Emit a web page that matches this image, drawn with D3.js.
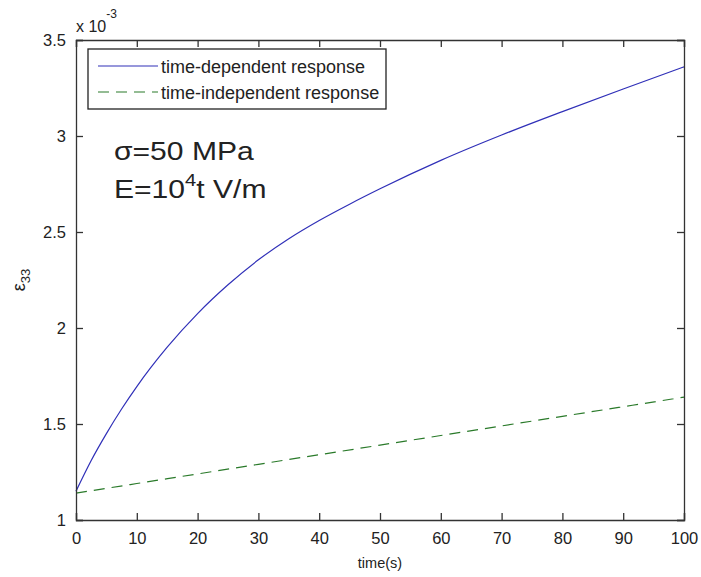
<!DOCTYPE html>
<html>
<head>
<meta charset="utf-8">
<script src="https://cdn.jsdelivr.net/npm/d3@7/dist/d3.min.js"></script>
<style>
  html, body { margin: 0; padding: 0; background: #fff; }
  svg text { font-family: "Liberation Sans", Arial, sans-serif; fill: #222; }
</style>
</head>
<body>
<div id="chart"></div>
<script>
// values (strain in units of 1e-3)
const timeDep = [0, 2.5, 5, 7.5, 10, 15, 20, 25, 30, 35, 40, 45, 50, 60, 70, 80, 90, 100];
const strainDep = [1.15, 1.31, 1.45, 1.578, 1.695, 1.90, 2.075, 2.225, 2.355, 2.465, 2.56, 2.645, 2.725, 2.873, 3.005, 3.127, 3.245, 3.36];
const timeIndep = [0, 10, 20, 30, 40, 50, 60, 70, 80, 90, 100];
const strainIndep = [1.14, 1.19, 1.24, 1.29, 1.34, 1.39, 1.44, 1.49, 1.54, 1.59, 1.64];
const xTicks = [0, 10, 20, 30, 40, 50, 60, 70, 80, 90, 100];
const yTicks = [1, 1.5, 2, 2.5, 3, 3.5];
const legendLabels = ["time-dependent response", "time-independent response"];

const width = 701, height = 577;
const margin = {top: 40, right: 17, bottom: 57, left: 76};

let svg = d3.select("#chart")
    .append("svg")
    .attr("width", width)
    .attr("height", height);

let x = d3.scaleLinear().domain([0, 100]).range([margin.left, width - margin.right]);
let y = d3.scaleLinear().domain([1, 3.5]).range([height - margin.bottom, margin.top]);

let line = d3.line()
    .x(function(d) { return x(d[0]); })
    .y(function(d) { return y(d[1]); })
    .curve(d3.curveMonotoneX);

// curves
svg.append("path")
    .datum(d3.zip(timeIndep, strainIndep))
    .attr("d", line)
    .attr("fill", "none")
    .attr("stroke", "#2a7a2a")
    .attr("stroke-width", 1.2)
    .attr("stroke-dasharray", "11,7");

svg.append("path")
    .datum(d3.zip(timeDep, strainDep))
    .attr("d", line)
    .attr("fill", "none")
    .attr("stroke", "#3030b8")
    .attr("stroke-width", 1.2);

// axes, MATLAB box style: ticks inside on all four sides
const tickLen = 7;
let fmt = d3.format("");
svg.append("g")
    .attr("transform", "translate(0," + y.range()[0] + ")")
    .call(d3.axisBottom(x).tickValues(xTicks).tickSize(-tickLen).tickPadding(12).tickFormat(fmt));
svg.append("g")
    .attr("transform", "translate(0," + y.range()[1] + ")")
    .call(d3.axisTop(x).tickValues(xTicks).tickSize(-tickLen).tickFormat(""));
svg.append("g")
    .attr("transform", "translate(" + x.range()[0] + ",0)")
    .call(d3.axisLeft(y).tickValues(yTicks).tickSize(-tickLen).tickPadding(10).tickFormat(fmt));
svg.append("g")
    .attr("transform", "translate(" + x.range()[1] + ",0)")
    .call(d3.axisRight(y).tickValues(yTicks).tickSize(-tickLen).tickFormat(""));

svg.selectAll(".domain").attr("stroke", "#333").attr("stroke-width", 1.3);
svg.selectAll(".tick line").attr("stroke", "#333").attr("stroke-width", 1.3);
svg.selectAll(".tick text")
    .attr("font-size", 16.5)
    .attr("font-family", "Liberation Sans, Arial, sans-serif")
    .attr("fill", "#222");

// exponent label
let ex = svg.append("text")
    .attr("x", x.range()[0])
    .attr("y", 32)
    .attr("font-size", 16);
ex.append("tspan").text("x 10");
ex.append("tspan").attr("dy", -14).attr("font-size", 12).text("-3");

// axis labels
svg.append("text")
    .attr("x", (x.range()[0] + x.range()[1]) / 2)
    .attr("y", 568)
    .attr("text-anchor", "middle")
    .attr("font-size", 14.5)
    .text("time(s)");

let yl = svg.append("text")
    .attr("transform", "translate(25,280) rotate(-90)")
    .attr("text-anchor", "middle")
    .attr("font-size", 18);
yl.append("tspan").text("ε");
yl.append("tspan").attr("dy", 5).attr("font-size", 13).text("33");

// annotation (reference text is slightly stretched horizontally)
svg.append("text")
    .attr("transform", "translate(114,160) scale(1.18,1)")
    .attr("font-size", 25.5)
    .text("σ=50 MPa");
let ann = svg.append("text")
    .attr("transform", "translate(114,198) scale(1.18,1)")
    .attr("font-size", 25.5);
ann.append("tspan").text("E=10");
ann.append("tspan").attr("dy", -12).attr("font-size", 17).text("4");
ann.append("tspan").attr("dy", 12).text("t V/m");

// legend
let lg = svg.append("g");
lg.append("rect")
    .attr("x", 88).attr("y", 49)
    .attr("width", 298).attr("height", 60)
    .attr("fill", "#fff")
    .attr("stroke", "#222")
    .attr("stroke-width", 1.3);
let lstyles = [{c: "#3030b8", dash: null}, {c: "#2a7a2a", dash: "11,7"}];
legendLabels.forEach(function(name, i) {
    let ly = 66 + i * 26;
    lg.append("line")
        .attr("x1", 98).attr("x2", 158)
        .attr("y1", ly).attr("y2", ly)
        .attr("stroke", lstyles[i].c)
        .attr("stroke-width", 1.2)
        .attr("stroke-dasharray", lstyles[i].dash);
    lg.append("text")
        .attr("x", 161)
        .attr("y", ly + 7)
        .attr("font-size", 18)
        .text(name);
});
</script>
</body>
</html>
